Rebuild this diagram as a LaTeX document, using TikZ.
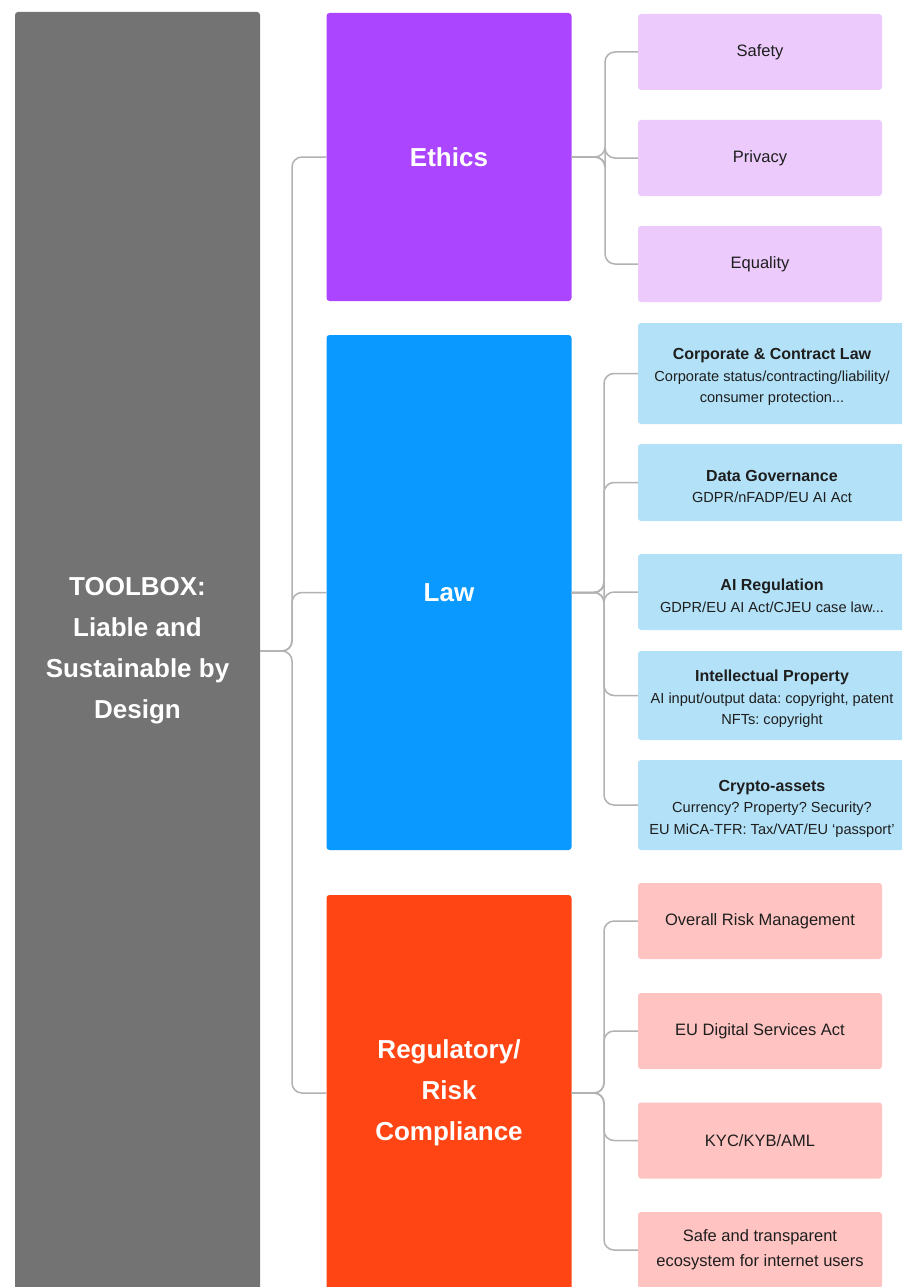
\documentclass[tikz,border=0pt]{standalone}
\usepackage{fontspec}
\setmainfont{Liberation Sans}
\frenchspacing
\definecolor{toolgray}{HTML}{737373}
\definecolor{ethicsviolet}{HTML}{AB45FF}
\definecolor{lawblue}{HTML}{0A99FF}
\definecolor{regorange}{HTML}{FF4513}
\definecolor{ethicslight}{HTML}{ECCBFC}
\definecolor{lawlight}{HTML}{B3E2F8}
\definecolor{reglight}{HTML}{FFC4C1}
\definecolor{linegray}{HTML}{B2B2B2}
\definecolor{textdark}{HTML}{1E1E1E}
\begin{document}
\begin{tikzpicture}[x=1pt,y=-1pt,
  mainbox/.style={rounded corners=3pt, inner sep=0pt, minimum width=245pt,
    text=white, align=center, font=\bfseries\fontsize{26}{41}\selectfont},
  leaf/.style={rounded corners=3pt, inner sep=0pt, minimum width=244pt,
    minimum height=76pt, text=textdark, align=center,
    font=\fontsize{16.5}{25}\selectfont},
  lawleaf/.style={leaf, fill=lawlight, minimum width=268pt,
    font=\fontsize{14.6}{21.5}\selectfont},
  link/.style={draw=linegray, line width=1.5pt, rounded corners=10pt}]
\useasboundingbox (0,0) rectangle (902,1287);
\clip (0,0) rectangle (902,1287);
\fill[white] (0,0) rectangle (902,1287);

% first column
\node[mainbox, fill=toolgray, minimum height=1278pt] (tool) at (137.5,651)
  {TOOLBOX:\\Liable and\\Sustainable by\\Design};

% second column
\node[mainbox, fill=ethicsviolet, minimum height=288pt] (ethics) at (449,157) {Ethics};
\node[mainbox, fill=lawblue, minimum height=515pt] (law) at (449,592.5) {Law};
\node[mainbox, fill=regorange, minimum height=396pt] (reg) at (449,1093)
  {Regulatory/\\Risk\\Compliance};

% ethics leaves
\node[leaf, fill=ethicslight] (safety) at (760,52) {Safety};
\node[leaf, fill=ethicslight] (privacy) at (760,158) {Privacy};
\node[leaf, fill=ethicslight] (equality) at (760,264) {Equality};

% law leaves: bold heading, a taller first line pushes the text block down a little
\newcommand{\leaftitle}[1]{\rule{0pt}{19pt}{\bfseries\fontsize{16}{21.5}\selectfont #1}}
\node[lawleaf, minimum height=101pt] (corp) at (772,373.5)
  {\leaftitle{Corporate \& Contract Law}\\Corporate status/contracting/liability/\\consumer protection...};
\node[lawleaf, minimum height=77pt] (datagov) at (772,482.5)
  {\leaftitle{Data Governance}\\GDPR/nFADP/EU AI Act};
\node[lawleaf, minimum height=76pt] (aireg) at (772,592)
  {\leaftitle{AI Regulation}\\GDPR/EU AI Act/CJEU case law...};
\node[lawleaf, minimum height=89pt] (ip) at (772,695.5)
  {\leaftitle{Intellectual Property}\\AI input/output data: copyright, patent\\NFTs: copyright};
\node[lawleaf, minimum height=90pt] (crypto) at (772,805)
  {\leaftitle{Crypto-assets}\\Currency? Property? Security?\\EU MiCA-TFR: Tax/VAT/EU `passport'};

% regulatory leaves
\node[leaf, fill=reglight] (risk) at (760,921) {Overall Risk Management};
\node[leaf, fill=reglight] (dsa) at (760,1031) {EU Digital Services Act};
\node[leaf, fill=reglight] (kyc) at (760,1140.5) {KYC/KYB/AML};
\node[leaf, fill=reglight] (safe) at (760,1250)
  {Safe and transparent\\ecosystem for internet users};

% junction points of the brackets
\coordinate (j0) at (292,651);
\coordinate (j1) at (605,157);
\coordinate (j2) at (604,592.5);
\coordinate (j3) at (604,1093);

% connectors
\foreach \t in {ethics,law,reg}
  \draw[link] (tool.east) -- (j0) |- (\t.west);
\foreach \t in {safety,privacy,equality}
  \draw[link] (ethics.east) -- (j1) |- (\t.west);
\foreach \t in {corp,datagov,aireg,ip,crypto}
  \draw[link] (law.east) -- (j2) |- (\t.west);
\foreach \t in {risk,dsa,kyc,safe}
  \draw[link] (reg.east) -- (j3) |- (\t.west);
\end{tikzpicture}
\end{document}
